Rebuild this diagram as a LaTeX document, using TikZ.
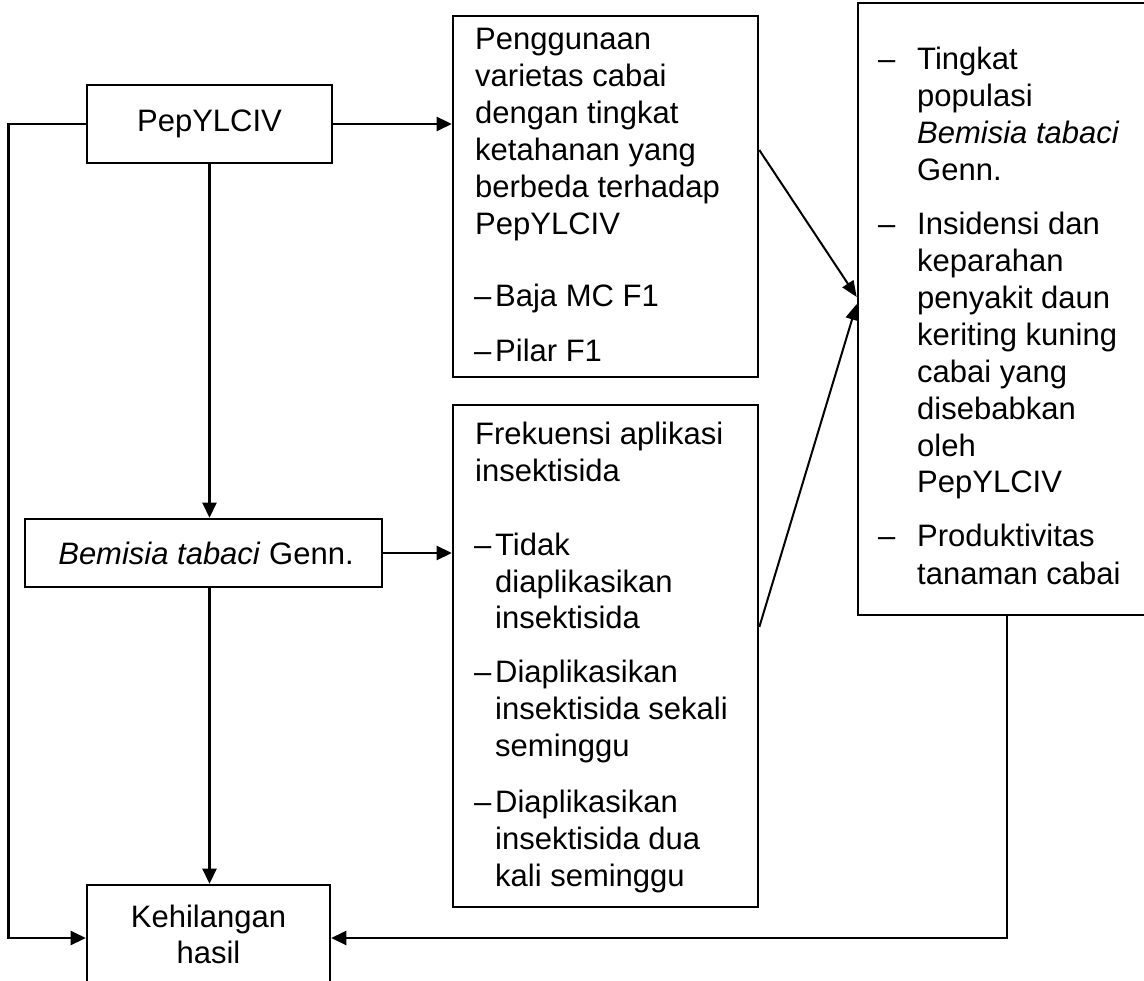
\documentclass[tikz,border=0pt]{standalone}
\usepackage{fontspec}
\setmainfont{Liberation Sans}
\usetikzlibrary{arrows.meta}
\begin{document}
\begin{tikzpicture}[x=1pt,y=-1pt,
  box/.style={draw,line width=2.6pt,fill=white,inner sep=0pt},
  conn/.style={line width=2.6pt},
  arr/.style={conn,-{Triangle[length=15pt,width=14pt]}},
  diag/.style={line width=2pt,-{Triangle[length=16pt,width=13pt]}},
  txt/.style={anchor=base west,inner sep=0pt,font=\fontsize{31}{37}\selectfont},
  ctxt/.style={anchor=base,inner sep=0pt,font=\fontsize{31}{37}\selectfont}]
\useasboundingbox (0,0) rectangle (1144,981);
% boxes
\node[box,minimum width=245pt,minimum height=78pt] (pep) at (209.5,124) {};
\node[box,minimum width=305pt,minimum height=361pt] (peng) at (605.5,196.5) {};
\node[box,minimum width=310pt,minimum height=612pt] (res) at (1013,309) {};
\node[box,minimum width=357pt,minimum height=68pt] (bem) at (203.5,553) {};
\node[box,minimum width=305pt,minimum height=502pt] (frek) at (605.5,656) {};
\node[box,minimum width=243pt,minimum height=106pt] (keh) at (208.5,938) {};
% centred texts
\node[ctxt] (tpep) at (209.5,132) {PepYLCIV};
\node[ctxt] (tbem) at (206,564) {\textit{Bemisia tabaci} Genn.};
\node[ctxt] (tkeh1) at (208.5,927) {Kehilangan};
\node[ctxt] (tkeh2) at (208.5,963) {hasil};
% Penggunaan box
\foreach \t/\y [count=\i] in {Penggunaan/50,varietas cabai/87,dengan tingkat/124,ketahanan yang/161,berbeda terhadap/198,PepYLCIV/235}
  \node[txt] (pg\i) at (475,\y) {\t};
\foreach \t/\y [count=\i] in {Baja MC F1/307,Pilar F1/362}{
  \node[txt] (pgd\i) at (474,\y) {--};
  \node[txt] (pgi\i) at (495,\y) {\t};}
% Frekuensi box
\foreach \t/\y [count=\i] in {Frekuensi aplikasi/445,insektisida/482}
  \node[txt] (fk\i) at (475,\y) {\t};
\foreach \y [count=\i] in {555,682,812}
  \node[txt] (fkd\i) at (474,\y) {--};
\foreach \t/\y [count=\i] in {Tidak/555,diaplikasikan/592,insektisida/628,Diaplikasikan/682,insektisida sekali/719,seminggu/756,Diaplikasikan/812,insektisida dua/849,kali seminggu/886}
  \node[txt] (fki\i) at (495,\y) {\t};
% result box
\foreach \y [count=\i] in {70,235,547}
  \node[txt] (rsd\i) at (878,\y) {--};
\foreach \t/\y [count=\i] in {Tingkat/70,populasi/107,\textit{Bemisia tabaci}/144,Genn./181,Insidensi dan/235,keparahan/272,penyakit daun/309,keriting kuning/346,cabai yang/383,disebabkan/420,oleh/457,PepYLCIV/493,Produktivitas/547,tanaman cabai/584}
  \node[txt] (rs\i) at (917,\y) {\t};
% connectors
\draw[arr] (pep.east) -- (peng.west |- pep.east);
\draw[arr] (pep.west) -- ++(-77,0) |- (keh.west);
\draw[arr] (pep.south) -- (pep.south |- bem.north);
\draw[arr] (pep.south |- bem.south) -- (pep.south |- keh.north);
\draw[arr] (bem.east) -- (frek.west |- bem.east);
\draw[arr] (res.south -| 1007,0) |- (keh.east);
\draw[diag] (peng.east |- 0,150) -- (res.west |- 0,297);
\draw[diag] (frek.east |- 0,627) -- (res.west |- 0,304);
\end{tikzpicture}
\end{document}
